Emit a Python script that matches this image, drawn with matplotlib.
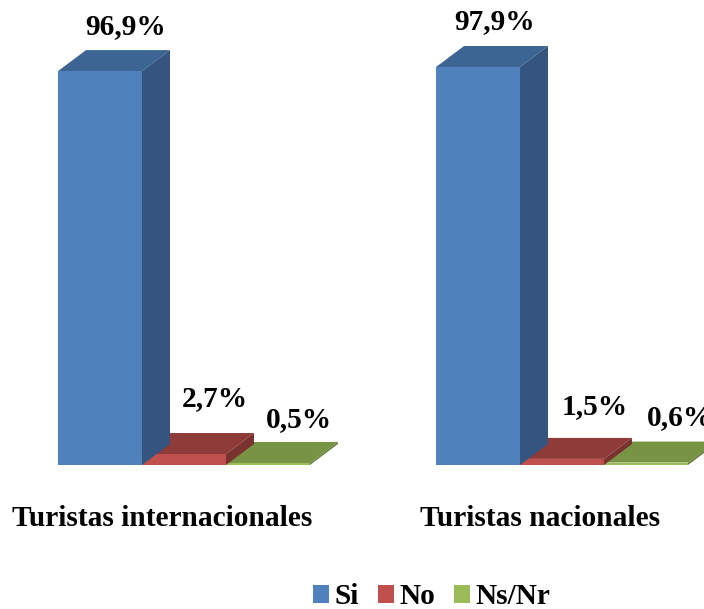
from matplotlib import pyplot as plt
import numpy as np
#
# the values
# -------------------------------
#
groups = ['Turistas internacionales', 'Turistas nacionales']
series = ['Si', 'No', 'Ns/Nr']
intern_vals = [96.9, 2.7, 0.5]
nacion_vals = [97.9, 1.5, 0.6]
#
# colours for front, top and side of each fake 3d bar
# ---------------------------------------------------
#
front_cols = ['#4f81bd', '#c0504d', '#9bbb59']
top_cols = ['#3d6594', '#8f3b39', '#779344']
side_cols = ['#335580', '#7a3230', '#667e3a']
#
# layout, the axes runs in pixels across and in percent up
# --------------------------------------------------------
#
W, H = 704, 609
base_px = 465
px_per_pct = 4.065
bar_w = 84
depth_x = 28
depth_y = 21 / px_per_pct
group_left = [58, 436]
label_font = ['Liberation Serif', 'DejaVu Serif']
font_size = 21.2


def py(pix):
    # pixel row from the top of the image -> value on the y axis
    return (base_px - pix) / px_per_pct


fig = plt.figure(figsize=(W / 100, H / 100), dpi=100)
ax = fig.add_axes([0, 0, 1, 1])
ax.set_xlim(0, W)
ax.set_ylim(py(H), py(0))
ax.axis('off')
#
# draw the bars, back ones first so the blue one stays in front
# -------------------------------------------------------------
#
handles = []
for left, vals in zip(group_left, [intern_vals, nacion_vals]):
    for i in range(len(vals) - 1, -1, -1):
        x0 = left + i * bar_w
        x1 = x0 + bar_w
        v = vals[i]
        ax.fill([x0, x0 + depth_x, x1 + depth_x, x1],
                [v, v + depth_y, v + depth_y, v],
                color=top_cols[i], lw=0, zorder=2 + (3 - i))
        ax.fill([x1, x1 + depth_x, x1 + depth_x, x1],
                [0, depth_y, v + depth_y, v],
                color=side_cols[i], lw=0, zorder=2 + (3 - i))
        bar = ax.bar(x0, v, width=bar_w, align='edge', color=front_cols[i],
                     lw=0, zorder=2 + (3 - i), label=series[i])
        if left == group_left[0]:
            handles.append((i, bar))
#
# percent labels over the bars, one list per group
# the last one runs off the right edge in the original too
# --------------------------------------------------------
#
label_xy = [[(126, 27), (215, 399), (299, 420)],
            [(495, 22), (595, 407), (680, 418)]]
for vals, places in zip([intern_vals, nacion_vals], label_xy):
    for v, (lx, ly) in zip(vals, places):
        ax.text(lx, py(ly), f'{v:.1f}%'.replace('.', ','), ha='center',
                va='center', fontsize=font_size, fontweight='bold',
                family=label_font, color='black', zorder=10)
#
# group names under the bars
# --------------------------
#
for name, cx in zip(groups, [162, 540]):
    ax.text(cx, py(518), name, ha='center', va='center', fontsize=font_size,
            fontweight='bold', family=label_font, color='black')
#
# legend along the bottom
# -----------------------
#
handles.sort(key=lambda h: h[0])
ax.legend([h[1] for h in handles], series, loc='center',
          bbox_to_anchor=(432 / W, 1 - 597 / H), ncol=3, frameon=False,
          prop={'family': label_font, 'size': font_size, 'weight': 'bold'},
          handlelength=0.52, handleheight=0.52, handletextpad=0.2,
          columnspacing=0.65, borderpad=0, borderaxespad=0)
#
# save it
# -------
#
fig.savefig('out.png', dpi=100, facecolor='white')
